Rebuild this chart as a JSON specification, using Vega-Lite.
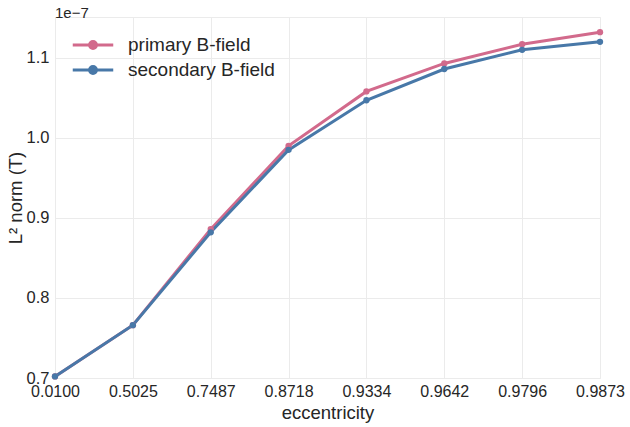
{
  "$schema": "https://vega.github.io/schema/vega-lite/v6.json",
  "width": 545,
  "height": 361,
  "autosize": {"type": "none"},
  "padding": {"left": 55, "top": 17, "right": 30, "bottom": 49},
  "background": "white",
  "title": {
    "text": "1e−7",
    "anchor": "start",
    "frame": "group",
    "fontSize": 15,
    "fontWeight": "normal",
    "font": "Liberation Sans",
    "color": "#262626",
    "offset": -4
  },
  "data": {
    "values": [
      {"eccentricity": "0.0100", "series": "primary B-field", "norm": 0.702},
      {"eccentricity": "0.5025", "series": "primary B-field", "norm": 0.766},
      {"eccentricity": "0.7487", "series": "primary B-field", "norm": 0.886},
      {"eccentricity": "0.8718", "series": "primary B-field", "norm": 0.990},
      {"eccentricity": "0.9334", "series": "primary B-field", "norm": 1.058},
      {"eccentricity": "0.9642", "series": "primary B-field", "norm": 1.093},
      {"eccentricity": "0.9796", "series": "primary B-field", "norm": 1.117},
      {"eccentricity": "0.9873", "series": "primary B-field", "norm": 1.132},
      {"eccentricity": "0.0100", "series": "secondary B-field", "norm": 0.702},
      {"eccentricity": "0.5025", "series": "secondary B-field", "norm": 0.766},
      {"eccentricity": "0.7487", "series": "secondary B-field", "norm": 0.882},
      {"eccentricity": "0.8718", "series": "secondary B-field", "norm": 0.985},
      {"eccentricity": "0.9334", "series": "secondary B-field", "norm": 1.047},
      {"eccentricity": "0.9642", "series": "secondary B-field", "norm": 1.086},
      {"eccentricity": "0.9796", "series": "secondary B-field", "norm": 1.110},
      {"eccentricity": "0.9873", "series": "secondary B-field", "norm": 1.120}
    ]
  },
  "mark": {
    "type": "line",
    "strokeWidth": 3,
    "point": {"filled": true, "size": 40}
  },
  "encoding": {
    "x": {
      "field": "eccentricity",
      "type": "ordinal",
      "title": "eccentricity",
      "scale": {"type": "point", "padding": 0},
      "axis": {"labelAngle": 0, "labelPadding": 5, "titlePadding": 4, "labelFontSize": 16, "titleFontSize": 18.5}
    },
    "y": {
      "field": "norm",
      "type": "quantitative",
      "title": "L² norm (T)",
      "scale": {"domain": [0.7, 1.151], "nice": false, "zero": false},
      "axis": {"values": [0.7, 0.8, 0.9, 1.0, 1.1], "format": ".1f", "labelPadding": 6, "titlePadding": 1, "labelFontSize": 16.5, "titleFontSize": 18.5}
    },
    "color": {
      "field": "series",
      "type": "nominal",
      "title": null,
      "scale": {"domain": ["primary B-field", "secondary B-field"], "range": ["#D26A8C", "#4878A8"]},
      "legend": {
        "orient": "none",
        "legendX": 26,
        "legendY": 16,
        "labelFontSize": 19,
        "labelOffset": 23,
        "symbolType": "M-2,0L2,0M0.34,0A0.34,0.34 0 1 1 -0.34,0A0.34,0.34 0 1 1 0.34,0Z",
        "symbolSize": 410,
        "symbolStrokeWidth": 3,
        "rowPadding": 3
      }
    }
  },
  "config": {
    "font": "Liberation Sans",
    "view": {"stroke": "#ebebeb"},
    "axis": {
      "grid": true,
      "gridColor": "#ebebeb",
      "gridWidth": 1,
      "domain": false,
      "ticks": false,
      "labelColor": "#262626",
      "titleColor": "#262626",
      "titleFontWeight": "normal",
      "labelFont": "Liberation Sans",
      "titleFont": "Liberation Sans"
    },
    "legend": {"labelColor": "#262626", "labelFont": "Liberation Sans"}
  }
}
